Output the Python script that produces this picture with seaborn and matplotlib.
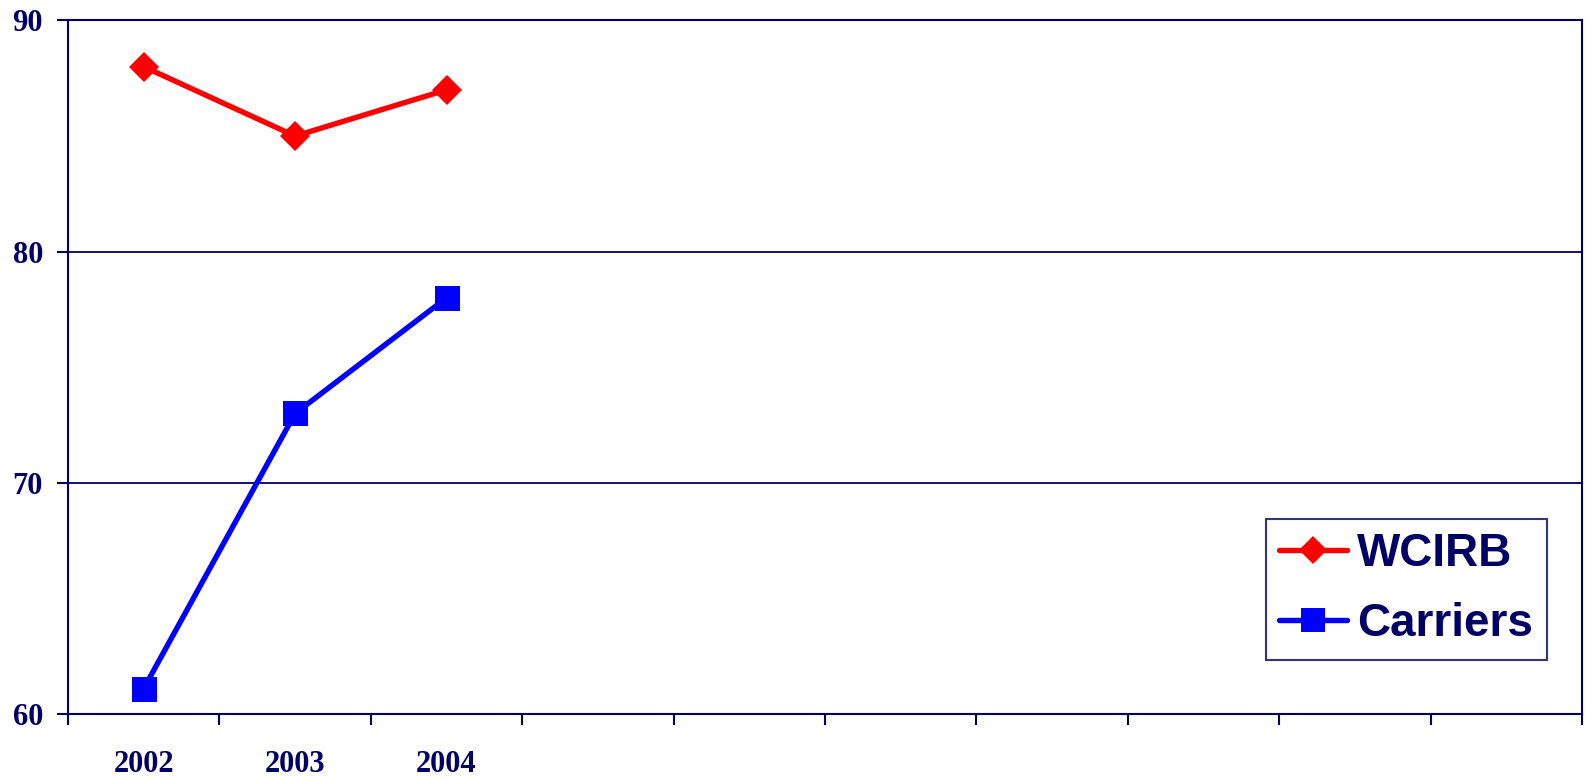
import numpy as np
import pandas as pd
import matplotlib
matplotlib.use("Agg")
import matplotlib.pyplot as plt
from matplotlib.ticker import FixedLocator, NullFormatter
import seaborn as sns

# Data
years = ["2002", "2003", "2004"]
wcirb = [88, 85, 87]
carriers = [61.1, 73, 78]
n_slots = 10          # category slots on the x axis
y_ticks = [60, 70, 80, 90]

NAVY = "#000066"
RED = "#FF0000"
BLUE = "#0000FF"

sns.set_style("white")
plt.rcParams["font.family"] = ["Liberation Serif", "DejaVu Serif"]

df = pd.DataFrame({
    "pos": list(range(len(years))) * 2,
    "value": wcirb + carriers,
    "series": ["WCIRB"] * len(years) + ["Carriers"] * len(years),
})

fig = plt.figure(figsize=(15.89, 7.79), dpi=100)
ax = fig.add_axes([0.0428, 0.0835, 0.9528, 0.8902])

sns.lineplot(data=df[df.series == "WCIRB"], x="pos", y="value", ax=ax,
             color=RED, linewidth=3.9, marker="D", markersize=15,
             markeredgewidth=0, label="WCIRB", zorder=4)
sns.lineplot(data=df[df.series == "Carriers"], x="pos", y="value", ax=ax,
             color=BLUE, linewidth=3.9, marker="s", markersize=18,
             markeredgewidth=0, label="Carriers", zorder=4)

ax.set_xlim(-0.5, n_slots - 0.5)
ax.set_ylim(y_ticks[0], y_ticks[-1])
ax.set_xlabel("")
ax.set_ylabel("")

# Major x ticks sit on slot boundaries, labels on slot centres
ax.xaxis.set_major_locator(FixedLocator(np.arange(n_slots + 1) - 0.5))
ax.xaxis.set_major_formatter(NullFormatter())
ax.xaxis.set_minor_locator(FixedLocator(range(len(years))))
ax.set_xticklabels(years, minor=True)
ax.tick_params(axis="x", which="major", direction="out", length=8,
               width=1.5, color=NAVY, bottom=True)
ax.tick_params(axis="x", which="minor", length=0, pad=26,
               labelsize=22, labelcolor=NAVY)
for t in ax.get_xticklabels(minor=True):
    t.set_fontweight("bold")

ax.set_yticks(y_ticks)
ax.set_yticklabels([str(v) for v in y_ticks])
ax.tick_params(axis="y", direction="out", length=8, width=1.5, color=NAVY,
               pad=10, labelsize=22, labelcolor=NAVY, left=True)
for t in ax.get_yticklabels():
    t.set_fontweight("bold")

ax.grid(False)
for v in y_ticks[1:-1]:
    ax.axhline(v, color=NAVY, linewidth=1.3, zorder=1)

for side in ["left", "right", "top", "bottom"]:
    ax.spines[side].set_visible(True)
    ax.spines[side].set_color(NAVY)
    ax.spines[side].set_linewidth(1.5)

leg = ax.legend(loc="lower left", bbox_to_anchor=(0.791, 0.078),
                borderaxespad=0, frameon=True, fancybox=False,
                handlelength=1.48, handletextpad=0.22, labelspacing=0.56,
                borderpad=0.3,
                prop={"family": "Liberation Sans", "weight": "bold", "size": 33})
leg.get_frame().set_edgecolor(NAVY)
leg.get_frame().set_linewidth(1.5)
for txt in leg.get_texts():
    txt.set_color(NAVY)
for h in leg.legend_handles:
    h.set_markersize(14 if h.get_marker() == "D" else 17)

fig.savefig("out.png", dpi=100, facecolor="white")
